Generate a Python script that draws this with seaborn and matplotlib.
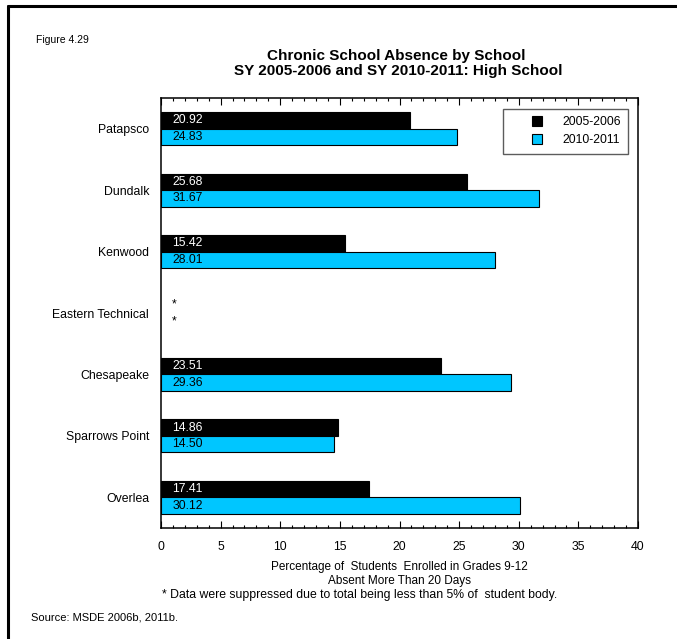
import numpy as np
import pandas as pd
import matplotlib
matplotlib.use("Agg")
import matplotlib.pyplot as plt
from matplotlib.lines import Line2D
from matplotlib.ticker import MultipleLocator
import seaborn as sns

schools = ["Patapsco", "Dundalk", "Kenwood", "Eastern Technical",
           "Chesapeake", "Sparrows Point", "Overlea"]
years = ["2005-2006", "2010-2011"]
vals_2006 = [20.92, 25.68, 15.42, np.nan, 23.51, 14.86, 17.41]
vals_2011 = [24.83, 31.67, 28.01, np.nan, 29.36, 14.50, 30.12]
colors = ["#000000", "#00C6FF"]
x_ticks = [0, 5, 10, 15, 20, 25, 30, 35, 40]

df = pd.DataFrame({
    "School": schools * 2,
    "Year": [years[0]] * len(schools) + [years[1]] * len(schools),
    "Value": vals_2006 + vals_2011,
})

sns.set_theme(style="white")
plt.rcParams["font.family"] = ["Liberation Sans", "DejaVu Sans"]
plt.rcParams["text.color"] = "black"
plt.rcParams["axes.labelcolor"] = "black"
plt.rcParams["xtick.color"] = "black"
plt.rcParams["ytick.color"] = "black"

fig = plt.figure(figsize=(6.77, 6.39), dpi=100)
ax = fig.add_axes([161 / 677, 1 - 528 / 639, (638 - 161) / 677, (528 - 98) / 639])

sns.barplot(data=df, y="School", x="Value", hue="Year", order=schools,
            hue_order=years, palette=colors, orient="h", width=0.54,
            edgecolor="black", linewidth=0.8, saturation=1, errorbar=None,
            legend=False, ax=ax)

ax.set_xlim(0, 40)
ax.set_ylim(len(schools) - 0.5, -0.5)
ax.set_xticks(x_ticks)
ax.xaxis.set_minor_locator(MultipleLocator(1))
ax.tick_params(axis="x", which="major", direction="in", length=5, width=0.8,
               top=True, bottom=True, labelsize=8.8, pad=9, colors="black")
ax.tick_params(axis="x", which="minor", direction="in", length=2.5, width=0.8,
               top=True, bottom=True, colors="black")
ax.tick_params(axis="y", length=0, labelsize=8.8, pad=8.5, colors="black")
for sp in ax.spines.values():
    sp.set_visible(True)
    sp.set_color("black")
    sp.set_linewidth(1.1)

ax.set_ylabel("")
ax.set_xlabel("Percentage of  Students  Enrolled in Grades 9-12\nAbsent More Than 20 Days",
              fontsize=8.5, color="black", labelpad=6, linespacing=1.25)

# value labels inside the bars
series = [vals_2006, vals_2011]
text_colors = ["white", "black"]
for k, cont in enumerate(ax.containers):
    vals = series[k]
    idx = [i for i, v in enumerate(vals) if not np.isnan(v)]
    p0 = cont.patches[0]
    offset = p0.get_y() + p0.get_height() / 2 - idx[0]
    for i, v in enumerate(vals):
        yc = i + offset
        if np.isnan(v):
            txt, col = "*", "black"
        else:
            txt, col = f"{v:.2f}", text_colors[k]
        ax.annotate(txt, xy=(0, yc), xytext=(8, 0), textcoords="offset points",
                    ha="left", va="center", fontsize=8.8, color=col)

handles = [Line2D([], [], marker="s", linestyle="none", markersize=7,
                  markerfacecolor=c, markeredgecolor="black", markeredgewidth=0.8)
           for c in colors]
leg = ax.legend(handles, years, loc="upper right", bbox_to_anchor=(0.98, 0.975),
                fontsize=8.8, frameon=True, fancybox=False, handlelength=4.4,
                handletextpad=-0.1, borderpad=0.6, labelspacing=0.5,
                borderaxespad=0)
leg.get_frame().set_edgecolor("#333333")
leg.get_frame().set_linewidth(1.0)
for t in leg.get_texts():
    t.set_color("black")

fig.text(396 / 677, 1 - 56 / 639, "Chronic School Absence by School",
         ha="center", va="center", fontsize=11, fontweight="bold", color="black")
fig.text(398 / 677, 1 - 71 / 639, "SY 2005-2006 and SY 2010-2011: High School",
         ha="center", va="center", fontsize=11, fontweight="bold", color="black")
fig.text(36 / 677, 1 - 40 / 639, "Figure 4.29", ha="left", va="center",
         fontsize=7.5, color="black")
fig.text(162 / 677, 1 - 595 / 639,
         "* Data were suppressed due to total being less than 5% of  student body.",
         ha="left", va="center", fontsize=8.8, color="black")
fig.text(31 / 677, 1 - 618 / 639, "Source: MSDE 2006b, 2011b.",
         ha="left", va="center", fontsize=8, color="black")

# outer frame (left and top edges visible)
fig.add_artist(Line2D([8 / 677, 8 / 677], [0, 1 - 6 / 639], transform=fig.transFigure,
                      color="black", linewidth=2.2))
fig.add_artist(Line2D([8 / 677, 1], [1 - 6 / 639, 1 - 6 / 639], transform=fig.transFigure,
                      color="black", linewidth=2.2))

fig.savefig("out.png", dpi=100)
